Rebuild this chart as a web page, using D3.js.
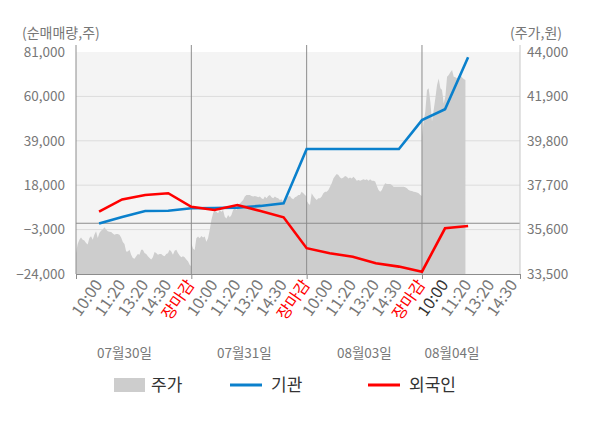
<!DOCTYPE html>
<html><head><meta charset="utf-8">
<script src="https://cdn.jsdelivr.net/npm/d3@7"></script>
<style>
body{margin:0;background:#fff}
svg{display:block}
text{font-family:"Noto Sans CJK KR","Noto Sans",sans-serif}
</style>
</head><body>
<svg id="c" width="600" height="428"></svg>
<script>
// ---------------- data ----------------
const dayLabels = ["07월30일", "07월31일", "08월03일", "08월04일"];
const slotLabels = [
  "10:00","11:20","13:20","14:30","장마감",
  "10:00","11:20","13:20","14:30","장마감",
  "10:00","11:20","13:20","14:30","장마감",
  "10:00","11:20","13:20","14:30"
];
const leftTicks = [81000, 60000, 39000, 18000, -3000, -24000];
const rightTicks = [44000, 41900, 39800, 37700, 35600, 33500];

// net buying (shares) at slots 1..17
const foreign = [5500, 11300, 13400, 14200, 7800, 6300, 8600, 5800, 2800,
  -11800, -14200, -15800, -18900, -20500, -22900, -2400, -1300];
const institution = [-100, 3000, 5800, 5900, 7100, 7200, 7400, 8200, 9400,
  35100, 35100, 35100, 35100, 35100, 48800, 53900, 78500];

// intraday price (won), evenly sampled per day
const priceDay1 = [34490,34920,35120,35230,35120,35080,34970,34890,35200,35280,
  35120,35360,35520,35200,35440,35550,35600,35710,35600,35520,
  35500,35490,35420,35360,35390,35390,35360,35230,35010,34920,
  34570,34570,34650,34410,34260,34220,34340,34450,34410,34650,
  34650,34490,34450,34340,34260,34180,34290,34540,34490,34410,
  34450,34450,34380,34340,34450,34480,34650,34570,34410,34600,
  34650,34490,34370,34290,34340,34290,34180,34100,33940,33860];
const priceDay2 = [34950,34710,34630,35190,35270,35190,35300,35230,35270,35030,
  35190,35580,36050,36370,36530,36450,36370,36530,36450,36530,
  36210,36130,36290,36180,36290,36530,36610,36530,36690,36840,
  36920,37000,37160,37240,37240,37240,37190,37160,37190,37160,
  37130,37160,37080,37030,37160,37080,37190,37240,37130,37080,
  37160,37110,37080,37000,37030,36920,36970,37080,37160,37190,
  37080,37030,37130,37160,37240,37240,37390,37320,37240,37160];
const priceDay3 = [36970,36840,36760,37320,37190,37080,37000,37080,37080,37160,
  37320,37390,37390,37470,37630,37790,38020,38140,38230,38180,
  38070,38020,38070,38140,38100,38020,38070,38020,38100,38020,
  37910,37950,37910,37950,37980,37950,37980,37910,37980,37910,
  37910,37870,37660,37470,37390,37470,37660,37790,37760,37760,
  37760,37710,37630,37630,37630,37630,37630,37630,37630,37600,
  37550,37470,37440,37420,37390,37380,37350,37320,37240,37190];
const priceDay4 = [40000,40710,41180,42200,42280,41650,40710,41260,41810,42440,
  42750,42280,42200,41570,41890,42830,42910,43040,43150,42830,
  42800,42750,42850,42900,42790,42720,42680];

// ---------------- layout ----------------
const L = 76, R = 520, T = 52, B = 274;
const svg = d3.select("#c");

const x = d3.scaleLinear().domain([0, 19.25]).range([L, R]);
const yL = d3.scaleLinear().domain([-24000, 81000]).range([B, T]);
const yR = d3.scaleLinear().domain([33500, 44000]).range([B, T]);

// background
svg.append("rect").attr("x", L).attr("y", T).attr("width", R - L).attr("height", B - T).attr("fill", "#f4f4f4");

// horizontal grid
svg.append("g").selectAll("line").data(leftTicks.slice(1, -1)).join("line")
  .attr("x1", L).attr("x2", R).attr("y1", d => yL(d)).attr("y2", d => yL(d))
  .attr("stroke", "#dcdcdc").attr("stroke-width", 1);

// price area
const perSlot = 5 / (priceDay1.length - 1);
const days = [priceDay1, priceDay2, priceDay3, priceDay4];
const priceSeries = [];
days.forEach((arr, d) => arr.forEach((p, i) => priceSeries.push({ t: 5 * d + i * perSlot, p })));
svg.append("path").datum(priceSeries)
  .attr("fill", "#cdcdcd")
  .attr("d", d3.area().x(d => x(d.t)).y0(yR(33500)).y1(d => yR(d.p)));

// zero line
svg.append("line").attr("x1", L).attr("x2", R).attr("y1", yL(0)).attr("y2", yL(0))
  .attr("stroke", "#8c8c8c").attr("stroke-width", 1);

// vertical day separators & axes lines
[5, 10, 15].forEach(s => {
  svg.append("line").attr("x1", x(s)).attr("x2", x(s)).attr("y1", 45).attr("y2", B)
    .attr("stroke", "#8c8c8c").attr("stroke-width", 1);
});
svg.append("line").attr("x1", L).attr("x2", L).attr("y1", 45).attr("y2", B)
  .attr("stroke", "#8c8c8c");
svg.append("line").attr("x1", R).attr("x2", R).attr("y1", 45).attr("y2", B)
  .attr("stroke", "#c8c8c8");

// bottom axis
const xAxis = d3.axisBottom(x).tickValues([0, 5, 10, 15, 19.25]).tickSize(5).tickFormat("");
const gx = svg.append("g").attr("transform", `translate(0,${B})`).call(xAxis);
gx.select(".domain").attr("stroke", "#8c8c8c").attr("d", `M${L},0.5H${R}`);
gx.selectAll(".tick line").attr("stroke", "#8c8c8c");

// slot labels
svg.append("g").selectAll("text").data(slotLabels).join("text")
  .attr("transform", (d, i) => `translate(${x(i + 1)},282) rotate(-55)`)
  .attr("text-anchor", "end").attr("dy", "0.3em")
  .attr("font-size", 16)
  .attr("fill", (d, i) => d === "장마감" ? "#ff0000" : (i === 15 ? "#333333" : "#777777"))
  .text(d => d);

// date labels
const dateSlots = [2.1, 7.3, 12.5, 16.3];
svg.append("g").selectAll("text").data(dayLabels).join("text")
  .attr("x", (d, i) => x(dateSlots[i])).attr("y", 358)
  .attr("text-anchor", "middle").attr("font-size", 13.5).attr("fill", "#777")
  .text(d => d);

// left axis
const gl = svg.append("g").attr("transform", `translate(${L},0)`)
  .call(d3.axisLeft(yL).tickValues(leftTicks).tickFormat(d3.format(",")).tickSize(0).tickPadding(11));
gl.select(".domain").remove();
gl.selectAll("text").attr("font-size", 13.5).attr("fill", "#777").attr("font-family", '"Noto Sans CJK KR","Noto Sans",sans-serif');

// right axis
const gr = svg.append("g").attr("transform", `translate(${R},0)`)
  .call(d3.axisRight(yR).tickValues(rightTicks).tickFormat(d3.format(",")).tickSize(0).tickPadding(7));
gr.select(".domain").remove();
gr.selectAll("text").attr("font-size", 13.5).attr("fill", "#777").attr("font-family", '"Noto Sans CJK KR","Noto Sans",sans-serif');

// unit labels
svg.append("text").attr("x", 22).attr("y", 38).attr("font-size", 14).attr("fill", "#777").text("(순매매량,주)");
svg.append("text").attr("x", 562).attr("y", 38).attr("text-anchor", "end").attr("font-size", 14).attr("fill", "#777").text("(주가,원)");

// lines
const line = d3.line().x((d, i) => x(i + 1)).y(d => yL(d));
svg.append("path").datum(institution).attr("fill", "none").attr("stroke", "#0a80cc")
  .attr("stroke-width", 2.6).attr("d", line);
svg.append("path").datum(foreign).attr("fill", "none").attr("stroke", "#ff0000")
  .attr("stroke-width", 2.6).attr("d", line);

// legend
const lg = svg.append("g");
lg.append("rect").attr("x", 114).attr("y", 378).attr("width", 31).attr("height", 14).attr("fill", "#cdcdcd");
lg.append("text").attr("x", 151).attr("y", 391).attr("font-size", 17).attr("fill", "#333").text("주가");
lg.append("line").attr("x1", 230).attr("x2", 262).attr("y1", 385).attr("y2", 385).attr("stroke", "#0a80cc").attr("stroke-width", 3);
lg.append("text").attr("x", 271).attr("y", 391).attr("font-size", 17).attr("fill", "#333").text("기관");
lg.append("line").attr("x1", 368).attr("x2", 400).attr("y1", 385).attr("y2", 385).attr("stroke", "#ff0000").attr("stroke-width", 3);
lg.append("text").attr("x", 409).attr("y", 391).attr("font-size", 17).attr("fill", "#333").text("외국인");
</script>
</body></html>
